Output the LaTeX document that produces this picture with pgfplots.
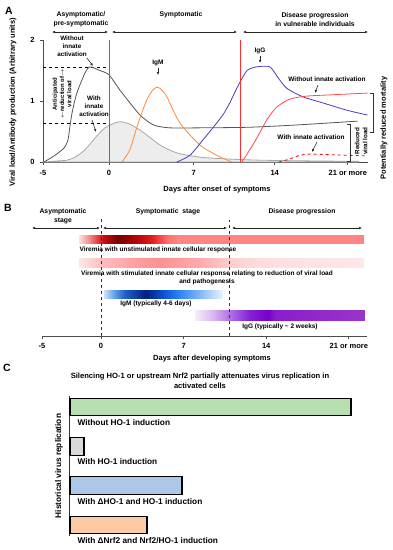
\documentclass[border=0pt]{standalone}
\usepackage{pgfplots}
\pgfplotsset{compat=1.18}
\usepackage{fontspec}
\setmainfont{Liberation Sans}
\usetikzlibrary{arrows.meta}

\definecolor{cDark}{HTML}{555555}
\definecolor{cLight}{HTML}{A8A8A8}
\definecolor{cFill}{HTML}{EDEDED}
\definecolor{cOrange}{HTML}{FF8A3A}
\definecolor{cBlue}{HTML}{4A3CC0}
\definecolor{cRed}{HTML}{FF4848}
\definecolor{cVline}{HTML}{FF3030}
\definecolor{cGreen}{HTML}{B7DFB0}
\definecolor{cGray}{HTML}{D9D9D9}
\definecolor{cBlueC}{HTML}{ADC7E8}
\definecolor{cOrangeC}{HTML}{FCCBA6}
% red bar
\definecolor{r0}{HTML}{FBE3E3}\definecolor{r1}{HTML}{F07070}\definecolor{r2}{HTML}{CC1010}
\definecolor{r3}{HTML}{780000}\definecolor{r4}{HTML}{A00000}\definecolor{r5}{HTML}{E01818}
\definecolor{r6}{HTML}{FF7070}\definecolor{r7}{HTML}{FF8585}
% pink bar
\definecolor{p0}{HTML}{FDE8E8}\definecolor{p1}{HTML}{FFC0C0}\definecolor{p2}{HTML}{FFA3A3}
\definecolor{p3}{HTML}{FF9090}\definecolor{p4}{HTML}{FFAAAA}\definecolor{p5}{HTML}{FFCCCC}
\definecolor{p6}{HTML}{FFDDDD}\definecolor{p7}{HTML}{FFE8E8}
% blue bar
\definecolor{b0}{HTML}{D0E2FA}\definecolor{b1}{HTML}{5C9AE8}\definecolor{b2}{HTML}{1F5FC8}
\definecolor{b3}{HTML}{002080}\definecolor{b4}{HTML}{0A5AD8}\definecolor{b5}{HTML}{2D86F5}
\definecolor{b6}{HTML}{80B8FA}\definecolor{b7}{HTML}{EAF4FF}
% purple bar
\definecolor{u0}{HTML}{F6EEFC}\definecolor{u1}{HTML}{DCB9F2}\definecolor{u2}{HTML}{B070E6}
\definecolor{u3}{HTML}{8420D4}\definecolor{u4}{HTML}{7600CC}\definecolor{u5}{HTML}{8A1CCC}
\definecolor{u6}{HTML}{9A36C8}

\pgfdeclarehorizontalshading{redbar}{100bp}{color(0bp)=(r0); color(25bp)=(r0); color(27.3bp)=(r1); color(29.2bp)=(r2); color(31.7bp)=(r3); color(33.9bp)=(r4); color(37.5bp)=(r5); color(40.6bp)=(r6); color(42.4bp)=(r7); color(75bp)=(r7); color(100bp)=(r7)}
\pgfdeclarehorizontalshading{pinkbar}{100bp}{color(0bp)=(p0); color(25bp)=(p0); color(28.7bp)=(p1); color(33.9bp)=(p2); color(39.2bp)=(p3); color(46.2bp)=(p4); color(51.1bp)=(p5); color(56.8bp)=(p6); color(75bp)=(p7); color(100bp)=(p7)}
\pgfdeclarehorizontalshading{bluebar}{100bp}{color(0bp)=(b0); color(25bp)=(b0); color(29.6bp)=(b1); color(33.8bp)=(b2); color(42.6bp)=(b3); color(50.6bp)=(b4); color(56.9bp)=(b5); color(65.3bp)=(b6); color(75bp)=(b7); color(100bp)=(b7)}
\pgfdeclarehorizontalshading{purplebar}{100bp}{color(0bp)=(u0); color(25bp)=(u0); color(30bp)=(u1); color(35.3bp)=(u2); color(41.2bp)=(u3); color(46.5bp)=(u4); color(48.5bp)=(u5); color(75bp)=(u6); color(100bp)=(u6)}

\newcommand{\fT}{\fontsize{6.8}{9}\selectfont\bfseries}
\newcommand{\fS}{\fontsize{6.5}{8}\selectfont\bfseries}
\newcommand{\fL}{\fontsize{7.5}{9}\selectfont\bfseries}
\newcommand{\fC}{\fontsize{8.3}{10}\selectfont\bfseries}
\newcommand{\fP}{\fontsize{10.5}{12}\selectfont\bfseries}

\tikzset{
  ar/.style={-{Latex[length=3pt,width=2.6pt]}, line width=0.6pt, black!85},
  dar/.style={{Latex[length=3pt,width=2.6pt]}-{Latex[length=3pt,width=2.6pt]}, line width=0.6pt, black!85},
}

\begin{document}
\begin{tikzpicture}
% ================= Panel A =================
\begin{axis}[
  at={(43pt,-162pt)}, anchor=south west,
  scale only axis, width=325pt, height=122pt,
  xmin=-5.55, xmax=21.8, ymin=0, ymax=2,
  axis x line*=bottom, axis y line*=left,
  axis line style={line width=0.9pt, black!70},
  xtick={-5.55,0,7.14,13.95,20.1}, xticklabels={-5,0,7,14,21 or more},
  ytick={0,1,2},
  tick align=outside, major tick length=3pt,
  tick style={black!70, line width=0.7pt},
  ticklabel style={font=\fL},
  xticklabel style={yshift=-2pt},
  yticklabel style={xshift=-2pt},
  /pgf/number format/assume math mode=true,
  clip=false,
]
\addplot[draw=cLight, fill=cFill, line width=0.8pt, smooth, tension=0.5] coordinates {
 (-5.55,0) (-4.12,0.02) (-3.53,0.03) (-2.86,0.08) (-2.02,0.20) (-1.01,0.43) (-0.34,0.56)
 (0.25,0.62) (0.92,0.66) (1.76,0.62) (2.86,0.49) (4.29,0.28) (5.71,0.15) (7.65,0.08)
 (9.92,0.05) (12.69,0.03) (16.05,0.02) (21.0,0.01)} \closedcycle;
\addplot[black, dashed, line width=0.6pt] coordinates {(-5.55,1.56) (0,1.56)};
\addplot[black, dashed, line width=0.6pt] coordinates {(-5.55,0.64) (0,0.64)};
\addplot[cDark, line width=0.8pt, smooth, tension=0.4] coordinates {
 (-5.46,0) (-4.54,0.11) (-3.78,0.23) (-3.45,0.36) (-3.28,0.59) (-3.11,0.80) (-2.86,1.02)
 (-2.61,1.18) (-2.02,1.46) (-1.60,1.56) (-0.76,1.50) (0,1.43) (0.92,1.18) (1.76,0.97)
 (2.61,0.77) (3.45,0.64) (4.03,0.59) (5.13,0.56) (7.65,0.56) (11.85,0.57) (16.05,0.61) (20.92,0.67)};
\addplot[cOrange, line width=0.8pt, smooth, tension=0.45] coordinates {
 (1.09,0) (1.76,0.20) (2.35,0.57) (2.85,0.85) (3.19,1.02) (3.61,1.16) (4.03,1.23) (4.45,1.18)
 (4.87,1.07) (5.97,0.64) (7.65,0.28) (9.08,0.11) (10.34,0)};
\addplot[cBlue, line width=0.8pt, smooth, tension=0.45] coordinates {
 (5.71,0) (6.81,0.11) (7.90,0.36) (8.66,0.54) (9.58,0.77) (10.17,0.97) (10.76,1.21) (11.26,1.39)
 (11.68,1.51) (12.44,1.56) (13.53,1.56) (14.20,1.39) (14.96,1.21) (16.30,1.07) (17.98,0.97)
 (20.0,0.85) (21.76,0.77)};
\addplot[cRed, line width=0.8pt, smooth, tension=0.45] coordinates {
 (11.18,0) (11.85,0.20) (12.44,0.39) (13.28,0.69) (14.12,0.90) (15.21,1.03) (16.64,1.08)
 (18.57,1.10) (21.76,1.13)};
\addplot[red, dashed, line width=0.8pt, smooth, tension=0.4] coordinates {
 (14.29,0) (15.21,0.05) (16.05,0.11) (16.9,0.13) (18.57,0.12) (21.76,0.10)};
\addplot[draw=cVline, line width=1.5pt] coordinates {(0.04,0) (0.04,2)};
\addplot[draw=cVline, line width=1.1pt] coordinates {(11.1,0) (11.1,2)};
\end{axis}

% ================= Panel B =================
\begin{axis}[
  at={(42pt,-336pt)}, anchor=south west,
  scale only axis, width=325pt, height=118pt,
  xmin=-5, xmax=22.54, ymin=0, ymax=118,
  axis x line*=bottom, axis y line=none,
  axis line style={line width=0.9pt, black!70},
  xtick={-5,0,7,14,21}, xticklabels={-5,0,7,14,21 or more},
  tick align=outside, major tick length=3pt,
  tick style={black!70, line width=0.7pt},
  ticklabel style={font=\fL},
  xticklabel style={yshift=-1pt},
  /pgf/number format/assume math mode=true,
  clip=false,
]
\addplot[draw=none, shade, shading=redbar] coordinates {(-1.86,93) (22.29,93) (22.29,101) (-1.86,101)};
\addplot[draw=none, shade, shading=pinkbar] coordinates {(-1.86,69) (22.29,69) (22.29,78) (-1.86,78)};
\addplot[draw=none, shade, shading=bluebar] coordinates {(0.25,38) (10.34,38) (10.34,46) (0.25,46)};
\addplot[draw=none, shade, shading=purplebar] coordinates {(7.97,16) (22.37,16) (22.37,26) (7.97,26)};
\addplot[black!80, dashed, line width=0.6pt] coordinates {(0,0) (0,118)};
\addplot[black!80, dashed, line width=0.6pt] coordinates {(10.85,0) (10.85,116)};
\end{axis}

% ================= Panel C =================
\begin{axis}[
  at={(70pt,-536pt)}, anchor=south west,
  scale only axis, width=300pt, height=140pt,
  xmin=0, xmax=300, ymin=0.72, ymax=4.28,
  axis x line=none, axis y line*=left,
  axis line style={line width=1pt, black!80},
  xtick=\empty, ytick=\empty,
  clip=false,
]
\addplot[xbar, bar width=17.5pt, bar shift=0pt, fill=cGreen, draw=black, line width=1.1pt] coordinates {(281,4)};
\addplot[xbar, bar width=17.5pt, bar shift=0pt, fill=cGray, draw=black, line width=1.1pt] coordinates {(14,3)};
\addplot[xbar, bar width=17.5pt, bar shift=0pt, fill=cBlueC, draw=black, line width=1.1pt] coordinates {(112,2)};
\addplot[xbar, bar width=17.5pt, bar shift=0pt, fill=cOrangeC, draw=black, line width=1.1pt] coordinates {(77,1)};
\end{axis}

% ================= Annotations =================
\begin{scope}[x=1pt, y=-1pt]
% Panel A
\node[font=\fP] at (9,11) {A};
\node[font=\fT, align=center] at (81,19.5) {Asymptomatic/\\pre-symptomatic};
\draw[dar] (52,32) -- (108,32);
\node[font=\fT] at (181,15) {Symptomatic};
\draw[dar] (112,32) -- (237,32);
\node[font=\fT, align=center] at (315,19.5) {Disease progression\\in vulnerable individuals};
\draw[dar] (243,32) -- (368,32);
\node[font=\fontsize{6.3}{8}\selectfont\bfseries, align=center] at (72,46) {Without\\innate\\activation};
\draw[ar] (87,58) -- (93,66);
\node[font=\fontsize{6}{7.3}\selectfont\bfseries, align=center, rotate=90] at (62,94) {Anticipated\\$\leftarrow$reduction of$\rightarrow$\\viral load};
\node[font=\fontsize{6.3}{8}\selectfont\bfseries, align=center] at (94,106) {With\\innate\\activation};
\draw[ar] (92,120) -- (96,132);
\node[font=\fS] at (158,63) {IgM};
\draw[ar] (158,67.5) -- (158,75);
\node[font=\fS] at (260,51) {IgG};
\draw[ar] (260,55.5) -- (260,63);
\node[font=\fS] at (327,79) {Without innate activation};
\draw[ar] (318,85) -- (315,93);
\node[font=\fS] at (311,137) {With innate activation};
\draw[ar] (317,142) -- (312,152);
\draw[line width=0.6pt, black!80] (347,124) -- (350,124) -- (350,161) -- (347,161);
\node[font=\fontsize{6.3}{8}\selectfont\bfseries, align=center, rotate=90] at (361,141) {Reduced\\viral load};
\draw[line width=0.6pt, black!80] (370,93) -- (373,93) -- (373,132) -- (370,132);
\node[font=\fL, rotate=90] at (384,128) {Potentially reduced mortality};
\node[font=\fL, rotate=90] at (13,102) {Viral load/Antibody production (Arbitrary units)};
\node[font=\fL] at (217,190) {Days after onset of symptoms};
% Panel B
\node[font=\fP] at (8,208) {B};
\node[font=\fT, align=center] at (63,216.5) {Asymptomatic\\stage};
\node[font=\fT] at (168,212) {Symptomatic\ \ stage};
\node[font=\fT] at (302,212) {Disease progression};
\draw[dar] (32,228) -- (100,228);
\draw[dar] (103,228) -- (227,228);
\draw[dar] (232,228) -- (362,228);
\node[font=\fS] at (158,250) {Viremia with unstimulated innate cellular response};
\node[font=\fS, align=center] at (207,277.5) {Viremia with stimulated innate cellular response relating to reduction of viral load\\and pathogenesis};
\node[font=\fS] at (156,303.5) {IgM (typically 4-6 days)};
\node[font=\fS] at (280,327) {IgG (typically \textasciitilde{} 2 weeks)};
\node[font=\fL] at (212,359) {Days after developing symptoms};
% Panel C
\node[font=\fP] at (7,368) {C};
\node[font=\fontsize{7.6}{10}\selectfont\bfseries, align=center] at (200,381) {Silencing HO-1 or upstream Nrf2 partially attenuates virus replication in\\activated cells};
\node[font=\fC, anchor=west] at (74,423) {Without HO-1 induction};
\node[font=\fC, anchor=west] at (74,462) {With HO-1 induction};
\node[font=\fC, anchor=west] at (74,502) {With ΔHO-1 and HO-1 induction};
\node[font=\fC, anchor=west] at (74,541) {With ΔNrf2 and Nrf2/HO-1 induction};
\node[font=\fC, rotate=90] at (59,466) {Historical virus replication};
\pgfresetboundingbox
\path (0,0) rectangle (392,550);
\end{scope}
\end{tikzpicture}
\end{document}
